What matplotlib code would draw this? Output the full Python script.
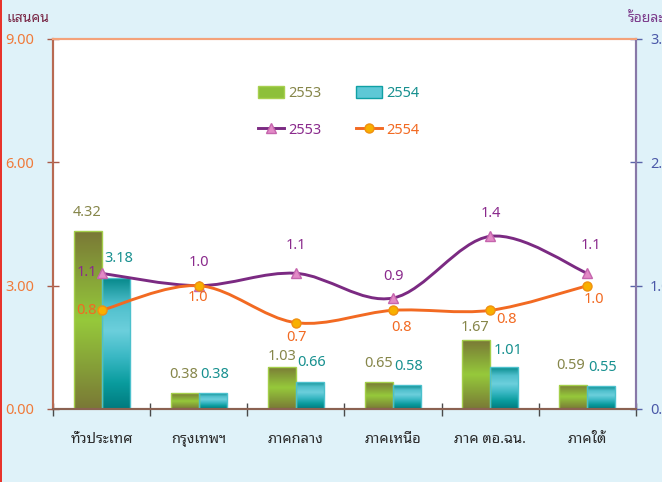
import matplotlib
matplotlib.use("Agg")
import numpy as np
import matplotlib.pyplot as plt
from matplotlib.colors import LinearSegmentedColormap
from matplotlib.path import Path
from matplotlib.patches import PathPatch, Patch, Rectangle
from matplotlib.lines import Line2D

plt.rcParams['font.family'] = ['Noto Sans Thai Looped', 'DejaVu Sans']

# ---------------- data ----------------
categories = ["ทั่วประเทศ", "กรุงเทพฯ", "ภาคกลาง", "ภาคเหนือ", "ภาค ตอ.ฉน.", "ภาคใต้"]
bars_2553 = [4.32, 0.38, 1.03, 0.65, 1.67, 0.59]
bars_2554 = [3.18, 0.38, 0.66, 0.58, 1.01, 0.55]
pct_2553 = [1.1, 1.0, 1.1, 0.9, 1.4, 1.1]
pct_2554 = [0.8, 1.0, 0.7, 0.8, 0.8, 1.0]
left_ticks = [0, 3, 6, 9]
right_ticks = [0, 1, 2, 3]
series_names = ["2553", "2554"]
left_title = "แสนคน"
right_title = "ร้อยละ"

# label offsets in pixels (style)
boff_2553 = [(0, 19), (-1, 19), (0, 10), (-1, 19), (-1, 13), (-3, 19)]
boff_2554 = [(3, 20), (2, 19), (2, 19), (2, 19), (4, 17), (1, 19)]
off_2553 = [(-15, 1), (0, 23), (0, 28), (0, 21), (1, 23), (3, 28)]
off_2554 = [(-15, 0), (-1, -12), (1, -15), (8, -17), (16, -9), (6, -14)]

# ---------------- style ----------------
BG = '#dff2f9'
GREEN_STOPS = ['#7a7836', '#86a138', '#96c93b', '#86a138', '#7a7836']
CYAN_STOPS = ['#06898b', '#4fbfcc', '#6ccfdc', '#3ab8c4', '#0a9c9e', '#007a7e']
GREEN_EDGE = '#a4cf4a'
CYAN_EDGE = '#4cc0cc'
GREEN_TXT = '#86864a'
CYAN_TXT = '#17908f'
PURPLE = '#7b2a82'
ORANGE = '#f26a22'
FS = 10.5
px = 72.0 / 100.0  # points per pixel at dpi 100

fig = plt.figure(figsize=(6.62, 4.82), dpi=100, facecolor=BG)
ax = fig.add_axes([53 / 662, 1 - 409 / 482, (636 - 53) / 662, (409 - 39) / 482])
ax.set_facecolor('white')
ax2 = ax.twinx()

# red stripe at left edge of figure
fig.add_artist(Rectangle((0, 0), 2.0 / 662, 1, transform=fig.transFigure,
                         facecolor='#e8342c', edgecolor='none'))

x = np.arange(len(categories))
w = 0.288

rects1 = ax.bar(x - w / 2, bars_2553, w, facecolor='none', edgecolor=GREEN_EDGE,
                linewidth=1.0, zorder=3)
rects2 = ax.bar(x + w / 2, bars_2554, w, facecolor='none', edgecolor=CYAN_EDGE,
                linewidth=1.0, zorder=3)

def gradient_fill(rects, stops):
    cmap = LinearSegmentedColormap.from_list('g', stops)
    img = np.linspace(0, 1, 256).reshape(-1, 1)
    for r in rects:
        x0, y0, ww, hh = r.get_x(), r.get_y(), r.get_width(), r.get_height()
        im = ax.imshow(img, cmap=cmap, extent=(x0, x0 + ww, y0, y0 + hh),
                       origin='upper', aspect='auto', zorder=2.5,
                       interpolation='bilinear')
        im.set_clip_path(r)

gradient_fill(rects1, GREEN_STOPS)
gradient_fill(rects2, CYAN_STOPS)

ax.set_xlim(-0.5, len(categories) - 0.5)
ax.set_ylim(0, 9)
ax2.set_ylim(0, 3)

for xi, v, (dx, dy) in zip(x, bars_2553, boff_2553):
    ax.annotate(f"{v:.2f}", (xi - w / 2, v), xytext=(dx * px, dy * px), textcoords='offset points',
                ha='center', va='center', fontsize=FS, color=GREEN_TXT, zorder=5)
for xi, v, (dx, dy) in zip(x, bars_2554, boff_2554):
    ax.annotate(f"{v:.2f}", (xi + w / 2, v), xytext=(dx * px, dy * px), textcoords='offset points',
                ha='center', va='center', fontsize=FS, color=CYAN_TXT, zorder=5)

def smooth_path(xs, ys):
    pts = np.column_stack([xs, ys]).astype(float)
    n = len(pts)
    verts = [pts[0]]
    codes = [Path.MOVETO]
    for i in range(n - 1):
        p0 = pts[i - 1] if i > 0 else pts[i]
        p1 = pts[i]
        p2 = pts[i + 1]
        p3 = pts[i + 2] if i + 2 < n else pts[i + 1]
        c1 = p1 + (p2 - p0) / 6.0
        c2 = p2 - (p3 - p1) / 6.0
        verts += [c1, c2, p2]
        codes += [Path.CURVE4] * 3
    return Path(verts, codes)

LW = 2.1
ax2.add_patch(PathPatch(smooth_path(x, pct_2553), facecolor='none', edgecolor=PURPLE,
                        linewidth=LW, zorder=4, capstyle='round'))
ax2.add_patch(PathPatch(smooth_path(x, pct_2554), facecolor='none', edgecolor=ORANGE,
                        linewidth=LW, zorder=4, capstyle='round'))
ax2.plot(x, pct_2553, linestyle='none', marker='^', markersize=7,
         markerfacecolor='#e28ac6', markeredgecolor='#c565ad', zorder=6)
ax2.plot(x, pct_2554, linestyle='none', marker='o', markersize=6.5,
         markerfacecolor='#f8b000', markeredgecolor='#f09010', zorder=6)

for xi, v, (dx, dy) in zip(x, pct_2553, off_2553):
    ax2.annotate(f"{v:.1f}", (xi, v), xytext=(dx * px, dy * px), textcoords='offset points',
                 ha='center', va='center', fontsize=FS, color='#8a2a8c', zorder=7)
for xi, v, (dx, dy) in zip(x, pct_2554, off_2554):
    ax2.annotate(f"{v:.1f}", (xi, v), xytext=(dx * px, dy * px), textcoords='offset points',
                 ha='center', va='center', fontsize=FS, color=ORANGE, zorder=7)

# ---------------- axes styling ----------------
ax.set_yticks(left_ticks)
ax.set_yticklabels([f"{t:.2f}" for t in left_ticks])
ax2.set_yticks(right_ticks)
ax2.set_yticklabels([f"{t:.1f}" for t in right_ticks])
ax.tick_params(axis='y', direction='inout', length=12 * px, width=1.0, color='#a85a48',
               labelcolor='#f07a3a', labelsize=FS, pad=13 * px)
ax2.tick_params(axis='y', direction='inout', length=12 * px, width=1.0, color='#5a64a8',
                labelcolor='#4a58a8', labelsize=FS, pad=8 * px)

ax.set_xticks(x)
ax.set_xticklabels(categories)
ax.set_xticks(np.arange(-0.5, len(categories), 1.0), minor=True)
ax.tick_params(axis='x', which='major', length=0, labelsize=10.5, labelcolor='#2a2a2a',
               pad=23 * px)
ax.tick_params(axis='x', which='minor', direction='inout', length=13 * px, width=1.0,
               color='#4a4a4a')

for a in (ax, ax2):
    for s, c in [('left', '#b86a52'), ('bottom', '#8b6252'), ('top', '#f4a27a'), ('right', '#8878a8')]:
        a.spines[s].set_color(c)
        a.spines[s].set_linewidth(1.5)

fig.text(6 / 662, 1 - 18 / 482, left_title, fontsize=10, color='#7a2a48',
         ha='left', va='center', fontweight='bold')
fig.text(628 / 662, 1 - 18 / 482, right_title, fontsize=10, color='#7b3a8a',
         ha='left', va='center', fontweight='bold')

# ---------------- legend ----------------
h_bar1 = Patch(facecolor='#8dc03a', edgecolor='#a8d050', label=series_names[0])
h_bar2 = Patch(facecolor='#5ec8d6', edgecolor='#10a0a4', label=series_names[1])
h_ln1 = Line2D([], [], color=PURPLE, linewidth=LW, marker='^', markersize=7,
               markerfacecolor='#e28ac6', markeredgecolor='#c565ad', label=series_names[0])
h_ln2 = Line2D([], [], color=ORANGE, linewidth=LW, marker='o', markersize=6.5,
               markerfacecolor='#f8b000', markeredgecolor='#f09010', label=series_names[1])
leg = ax2.legend(handles=[h_bar1, h_ln1, h_bar2, h_ln2], ncol=2, loc='upper left',
                 bbox_to_anchor=(0.352, 0.872), frameon=False, fontsize=FS,
                 borderaxespad=0, borderpad=0, handlelength=1.75, handleheight=0.85,
                 handletextpad=0.3, columnspacing=2.4, labelspacing=1.45)
for t, c in zip(leg.get_texts(), ['#86864a', '#8a2a8c', '#17908f', ORANGE]):
    t.set_color(c)

fig.savefig("out.png", dpi=100, facecolor=BG)
